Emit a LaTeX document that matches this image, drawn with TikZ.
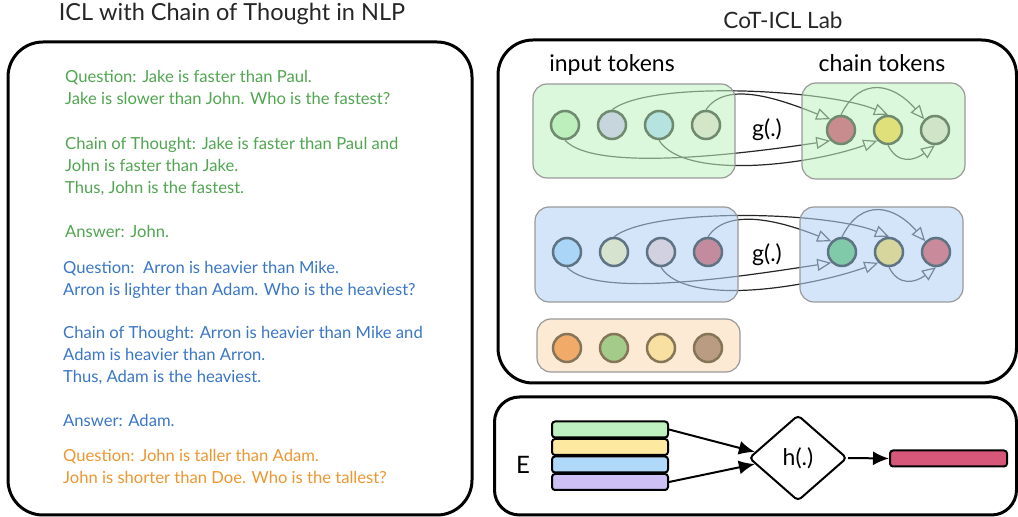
\documentclass[tikz,border=0pt]{standalone}
\usepackage{fontspec}
\setmainfont{Lato}
\usetikzlibrary{arrows.meta,shapes.geometric}
\pgfdeclarelayer{lines}
\pgfdeclarelayer{boxes}
\pgfsetlayers{lines,boxes,main}

\definecolor{txtgreen}{RGB}{80,165,80}
\definecolor{txtblue}{RGB}{58,118,198}
\definecolor{txtorange}{RGB}{236,150,48}
\definecolor{grpgreen}{RGB}{193,242,193}
\definecolor{grpblue}{RGB}{179,210,245}
\definecolor{grporange}{RGB}{253,234,213}
\definecolor{edgeG}{RGB}{111,138,111}
\definecolor{edgeB}{RGB}{94,115,131}
\definecolor{edgeO}{RGB}{134,117,88}
\definecolor{gA}{RGB}{189,239,189}
\definecolor{gB}{RGB}{198,214,220}
\definecolor{gC}{RGB}{182,226,223}
\definecolor{gD}{RGB}{212,230,200}
\definecolor{gE}{RGB}{201,140,142}
\definecolor{gF}{RGB}{223,224,122}
\definecolor{gG}{RGB}{208,228,200}
\definecolor{bA}{RGB}{171,213,247}
\definecolor{bB}{RGB}{214,227,207}
\definecolor{bC}{RGB}{209,209,225}
\definecolor{bD}{RGB}{195,140,158}
\definecolor{bE}{RGB}{128,201,169}
\definecolor{bF}{RGB}{215,215,157}
\definecolor{bG}{RGB}{201,138,156}
\definecolor{oA}{RGB}{241,171,104}
\definecolor{oB}{RGB}{165,203,139}
\definecolor{oC}{RGB}{248,224,162}
\definecolor{oD}{RGB}{185,156,130}
\definecolor{barG}{RGB}{191,240,191}
\definecolor{barY}{RGB}{253,233,160}
\definecolor{barB}{RGB}{176,216,248}
\definecolor{barP}{RGB}{204,192,245}
\definecolor{barR}{RGB}{214,87,122}

\begin{document}
\begin{tikzpicture}[x=1pt,y=1pt,
  panel/.style={line width=3pt,rounded corners=35pt},
  token/.style={circle,draw,line width=2.5pt,minimum size=28pt,inner sep=0pt},
  grp/.style={draw=black!40,line width=1.2pt,rounded corners=14pt,fill opacity=0.57},
  flow/.style={black!85,line width=1.2pt,-{Triangle[open,length=14pt,width=12pt]}},
  bar/.style={draw,line width=2pt,rounded corners=3pt,minimum width=116pt,minimum height=16pt,inner sep=0pt},
  map/.style={line width=2pt,-{Latex[length=16pt,width=14pt]}},
  qa/.style={anchor=north west,align=left,inner sep=0pt,font=\fontsize{16.6}{22}\selectfont}]
\useasboundingbox (0,0) rectangle (1018,517);

% left panel
\node[font=\fontsize{23.5}{27}\selectfont,text=black!85] (titleL) at (232,503) {ICL with Chain of Thought in NLP};
\draw[panel] (8,2) rectangle (472,475);

\node[qa,text=txtgreen] (q1) at (65,447) {Question: Jake is faster than Paul.\\Jake is slower than John. Who is the fastest?};
\node[qa,text=txtgreen] (c1) at (65,380) {Chain of Thought: Jake is faster than Paul and\\John is faster than Jake.\\Thus, John is the fastest.};
\node[qa,text=txtgreen] (a1) at (65,292) {Answer: John.};
\node[qa,text=txtblue] (q2) at (63,256) {Question:\ \ Arron is heavier than Mike.\\Arron is lighter than Adam. Who is the heaviest?};
\node[qa,text=txtblue] (c2) at (63,191) {Chain of Thought: Arron is heavier than Mike and\\Adam is heavier than Arron.\\Thus, Adam is the heaviest.};
\node[qa,text=txtblue] (a2) at (63,103) {Answer: Adam.};
\node[qa,text=txtorange] (q3) at (63,68) {Question: John is taller than Adam.\\John is shorter than Doe. Who is the tallest?};

% right panel
\node[font=\fontsize{22.5}{26}\selectfont,text=black!85] (titleR) at (783,497) {CoT-ICL Lab};
\draw[panel] (498,134) rectangle (1016.5,477);
\node[font=\fontsize{23}{27}\selectfont] (inp) at (612,452) {input tokens};
\node[font=\fontsize{23}{27}\selectfont] (chn) at (882,454) {chain tokens};

% tokens
\foreach \c [count=\i] in {gA,gB,gC,gD}
  \node[token,draw=edgeG,fill=\c] (g\i) at (518+47*\i,392) {};
\foreach \c [count=\i] in {gE,gF,gG}
  \node[token,draw=edgeG,fill=\c] (gc\i) at (794+47*\i,387) {};
\foreach \c [count=\i] in {bA,bB,bC,bD}
  \node[token,draw=edgeB,fill=\c] (b\i) at (520+47*\i,265) {};
\foreach \c [count=\i] in {bE,bF,bG}
  \node[token,draw=edgeB,fill=\c] (bc\i) at (795+47*\i,265) {};
\foreach \c [count=\i] in {oA,oB,oC,oD}
  \node[token,draw=edgeO,fill=\c] (o\i) at (520+47*\i,169) {};

\node[font=\fontsize{23}{27}\selectfont] (gG1) at (767,387) {g(.)};
\node[font=\fontsize{23}{27}\selectfont] (gG2) at (767,262) {g(.)};

% groups
\begin{pgfonlayer}{boxes}
\draw[grp,fill=grpgreen] (533,339) rectangle (735,433);
\draw[grp,fill=grpgreen] (802,338) rectangle (965,434);
\draw[grp,fill=grpblue] (535,215) rectangle (738,310);
\draw[grp,fill=grpblue] (800,215) rectangle (963,310);
\draw[grp,fill=grporange,fill opacity=1] (537,145) rectangle (740,198);
\end{pgfonlayer}

% dependencies
\begin{pgfonlayer}{lines}
\foreach \p in {g,b} {
  \draw[flow] (\p2.north) .. controls +(40,30) and +(-60,25) .. (\p c2.north);
  \draw[flow] (\p4.north) .. controls +(20,30) and +(-50,20) .. (\p c1.north west);
  \draw[flow] (\p1.south) .. controls +(30,-33) and +(-80,-12) .. (\p c1.south west);
  \draw[flow] (\p3.south) .. controls +(25,-40) and +(-70,-25) .. (\p c2.south west);
  \draw[flow] (\p c1.north) .. controls +(20,40) and +(-30,35) .. (\p c3.north west);
  \draw[flow] (\p c2.south) .. controls +(10,-20) and +(-20,-15) .. (\p c3.south);
}
\end{pgfonlayer}

% readout
\draw[panel,rounded corners=25pt] (494.5,2) rectangle (1016.5,120);
\node[font=\fontsize{24}{28}\selectfont] (E) at (523,52) {E};
\node[bar,fill=barG] (eG) at (610,87.5) {};
\node[bar,fill=barY] (eY) at (610,70) {};
\node[bar,fill=barB] (eB) at (610,52.5) {};
\node[bar,fill=barP] (eP) at (610,35) {};
\node[diamond,draw,line width=2pt,rounded corners=4pt,minimum width=98pt,minimum height=86pt,inner sep=0pt,font=\fontsize{23}{27}\selectfont] (h) at (798,59) {h(.)};
\node[bar,fill=barR,minimum width=117pt] (y) at (948.5,58.5) {};

\draw[map] (eG.east) -- (h.172);
\draw[map] (eP.east) -- (h.188);
\draw[map] (h.east) -- (y.west);

\end{tikzpicture}
\end{document}
